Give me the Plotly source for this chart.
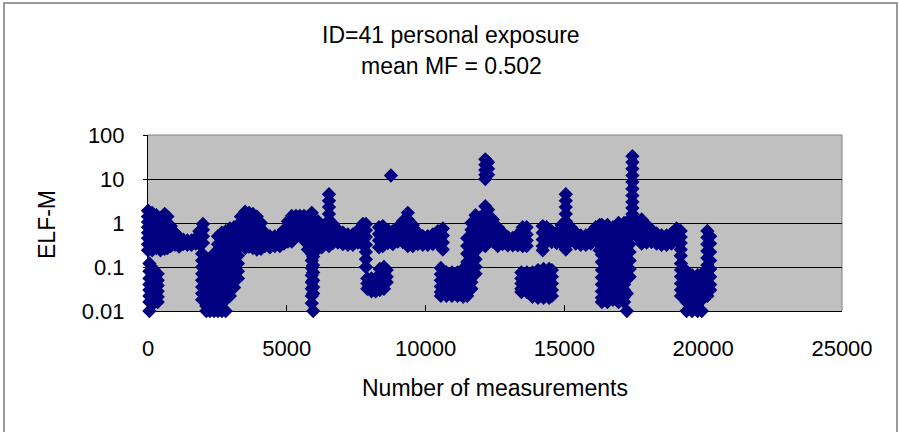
import plotly.graph_objects as go

seg1_x = [0, 50, 150, 200, 300, 350, 450, 600, 700, 820, 970, 1120, 1270, 1420, 1570, 1720, 1850, 1980]
seg1_v = [
    [1.9, 1.4, 1.05, 0.8, 0.6, 0.45, 0.33, 0.24],
    [0.12, 0.08, 0.055, 0.04, 0.03, 0.022, 0.016, 0.01],
    [1.7, 1.25, 0.95, 0.7, 0.52, 0.4, 0.3, 0.24],
    [0.09, 0.065, 0.045, 0.033, 0.025, 0.019, 0.015],
    [1.5, 1.1, 0.85, 0.62, 0.47, 0.36, 0.27],
    [0.07, 0.05, 0.038, 0.028, 0.021, 0.016],
    [1.3, 0.95, 0.72, 0.54, 0.4, 0.3, 0.24],
    [1.6, 1.1, 0.8, 0.6, 0.45, 0.33, 0.26],
    [1.4, 1.0, 0.7, 0.5, 0.36, 0.27],
    [0.85, 0.6, 0.42, 0.3],
    [0.6, 0.45, 0.32],
    [0.48, 0.36, 0.29],
    [0.42, 0.33],
    [0.4, 0.32],
    [0.4, 0.32],
    [0.45, 0.34],
    [0.65, 0.45, 0.33],
    [0.95, 0.7, 0.5, 0.35],
]

seg2_x = [1950, 2100, 2230, 2380, 2520, 2660, 2800, 2950, 3100, 3240]
seg2_v = [
    [0.2, 0.14, 0.1, 0.07, 0.05, 0.035, 0.025, 0.018],
    [0.16, 0.11, 0.075, 0.05, 0.035, 0.025, 0.018, 0.013, 0.01],
    [0.13, 0.09, 0.06, 0.04, 0.028, 0.02, 0.014, 0.01],
    [0.2, 0.13, 0.09, 0.06, 0.04, 0.028, 0.02, 0.014, 0.01],
    [0.5, 0.33, 0.22, 0.15, 0.1, 0.07, 0.045, 0.03, 0.02, 0.014, 0.01],
    [0.6, 0.42, 0.28, 0.19, 0.13, 0.085, 0.055, 0.038, 0.025, 0.017, 0.01],
    [0.65, 0.45, 0.3, 0.2, 0.13, 0.09, 0.06, 0.04, 0.027, 0.018, 0.01],
    [0.75, 0.5, 0.34, 0.23, 0.15, 0.1, 0.07, 0.046, 0.031, 0.022],
    [0.8, 0.55, 0.37, 0.25, 0.17, 0.11, 0.075, 0.05, 0.034],
    [0.9, 0.6, 0.4, 0.27, 0.18, 0.12, 0.08, 0.055],
]

seg3_x = [3350, 3500, 3640, 3780, 3920, 4070, 4210, 4390, 4570, 4750, 4900, 5040, 5180, 5330,
          5470, 5620, 5760, 5900, 5950, 6120, 6260, 6520, 6660, 6840, 7020, 7200, 7380, 7560,
          7740, 7850]
seg3_v = [
    [1.4, 1.0, 0.7, 0.5, 0.35],
    [1.8, 1.3, 0.95, 0.7, 0.5, 0.35, 0.27],
    [1.7, 1.2, 0.85, 0.6, 0.42, 0.29],
    [1.6, 1.1, 0.78, 0.55, 0.38, 0.27],
    [1.4, 1.0, 0.7, 0.48, 0.33, 0.25],
    [1.0, 0.7, 0.48, 0.33, 0.26],
    [0.6, 0.42, 0.3],
    [0.5, 0.37, 0.28],
    [0.5, 0.38, 0.3],
    [0.55, 0.4, 0.3],
    [0.7, 0.5, 0.34],
    [1.1, 0.78, 0.55, 0.38],
    [1.45, 1.05, 0.75, 0.53, 0.38],
    [1.45, 1.05, 0.75, 0.53],
    [1.45, 1.05, 0.75, 0.53],
    [1.45, 1.05, 0.75, 0.53, 0.4],
    [1.4, 1.0, 0.7, 0.5, 0.35, 0.25],
    [1.7, 1.2, 0.85, 0.6, 0.42, 0.29, 0.2, 0.14, 0.095, 0.065, 0.045, 0.032, 0.022, 0.015],
    [0.01, 0.17, 0.11, 0.075, 0.05, 0.035, 0.025],
    [1.1, 0.78, 0.55, 0.38, 0.26],
    [0.85, 0.6, 0.42, 0.28],
    [4.5, 3.2, 2.3, 1.6, 1.15, 0.82, 0.58, 0.41, 0.3],
    [0.95, 0.68, 0.48, 0.35],
    [0.7, 0.5, 0.36],
    [0.6, 0.45, 0.33],
    [0.55, 0.42, 0.32],
    [0.55, 0.42, 0.32],
    [0.68, 0.5, 0.36],
    [0.95, 0.68, 0.48, 0.32],
    [0.95, 0.68, 0.48, 0.32, 0.22, 0.15, 0.1],
]

seg4_x = [7900, 8050, 8200, 8350, 8500, 8600, 8320, 8460, 8640, 8750, 8820, 9000, 9180, 9360,
          9540, 9720, 9900, 10080, 10260, 10440, 10620]
seg4_v = [
    [0.055, 0.042, 0.032],
    [0.055, 0.042, 0.032, 0.028],
    [0.055, 0.042, 0.032, 0.028],
    [0.09, 0.065, 0.05, 0.038, 0.03],
    [0.1, 0.075, 0.055, 0.042, 0.032],
    [0.085, 0.06, 0.045],
    [0.8, 0.56, 0.4, 0.28],
    [0.85, 0.6, 0.42, 0.3],
    [0.7, 0.5, 0.35],
    [12],
    [0.65, 0.46, 0.33],
    [0.8, 0.55, 0.38],
    [1.1, 0.78, 0.54, 0.37],
    [1.7, 1.2, 0.85, 0.6, 0.42, 0.3],
    [0.9, 0.62, 0.42, 0.3],
    [0.6, 0.44, 0.33],
    [0.5, 0.4, 0.32],
    [0.5, 0.4, 0.32],
    [0.55, 0.42, 0.33],
    [0.65, 0.47, 0.35],
    [0.75, 0.52, 0.36, 0.25],
]

seg5_x = [10550, 10750, 10950, 11150, 11350, 11500, 11650, 11800, 11950, 12150, 12250]
seg5_v = [
    [0.095, 0.068, 0.05, 0.036, 0.027, 0.022],
    [0.075, 0.055, 0.04, 0.03, 0.022],
    [0.075, 0.055, 0.04, 0.03, 0.022],
    [0.075, 0.055, 0.04, 0.03, 0.022],
    [0.09, 0.065, 0.048, 0.035, 0.026, 0.021],
    [0.45, 0.3, 0.2, 0.13, 0.09, 0.06, 0.042, 0.03, 0.022],
    [1.0, 0.7, 0.47, 0.32, 0.21, 0.14, 0.095, 0.065, 0.045, 0.032],
    [1.5, 1.05, 0.72, 0.5, 0.34, 0.23, 0.15, 0.1, 0.07],
    [1.3, 0.9, 0.62, 0.43, 0.3],
    [28, 21, 16, 12.5, 10, 2.4, 1.7, 1.2, 0.85, 0.6, 0.42, 0.3],
    [24, 17, 12.5, 2.0, 1.4, 1.0, 0.7, 0.5, 0.35],
]

seg6_x = [12420, 12600, 12780, 12960, 13140, 13320, 13500, 13640, 13450, 13650, 13850, 14050,
          14250, 14450, 14550, 14220, 14360, 14540, 14720, 14900, 15050, 15230, 15410, 15590,
          15770, 15950, 16130, 16270]
seg6_v = [
    [1.2, 0.8, 0.55, 0.38],
    [0.8, 0.55, 0.4, 0.3],
    [0.6, 0.44, 0.33],
    [0.48, 0.38, 0.31],
    [0.46, 0.37, 0.31],
    [0.55, 0.4, 0.31],
    [0.8, 0.55, 0.4, 0.3],
    [0.8, 0.55, 0.4, 0.3],
    [0.075, 0.055, 0.042, 0.032, 0.027],
    [0.075, 0.055, 0.042, 0.032, 0.027],
    [0.075, 0.055, 0.042, 0.032, 0.025, 0.021],
    [0.085, 0.062, 0.045, 0.032, 0.025, 0.02],
    [0.09, 0.065, 0.047, 0.034, 0.025, 0.02],
    [0.09, 0.065, 0.047, 0.034, 0.025, 0.02],
    [0.085, 0.06, 0.042, 0.03, 0.022],
    [0.85, 0.6, 0.42, 0.3, 0.24],
    [0.8, 0.56, 0.42],
    [0.65, 0.48, 0.37],
    [0.6, 0.45, 0.35],
    [0.9, 0.65, 0.47, 0.34],
    [4.5, 3.2, 2.3, 1.6, 1.1, 0.75, 0.52, 0.36, 0.25],
    [0.8, 0.56, 0.4],
    [0.6, 0.45, 0.34],
    [0.52, 0.41, 0.32],
    [0.52, 0.41, 0.32],
    [0.6, 0.45, 0.34],
    [0.8, 0.56, 0.4],
    [0.9, 0.65, 0.47, 0.33, 0.24],
]

seg7_x = [16350, 16550, 16750, 16950, 17150, 17250, 17350, 17450, 17600]
seg7_v = [
    [0.9, 0.62, 0.42, 0.28, 0.19, 0.13, 0.085, 0.058, 0.04, 0.028, 0.02, 0.016],
    [0.9, 0.62, 0.42, 0.28, 0.19, 0.13, 0.085, 0.058, 0.04, 0.028, 0.02, 0.016],
    [0.8, 0.55, 0.37, 0.25, 0.17, 0.11, 0.075, 0.05, 0.035, 0.025, 0.018],
    [1.0, 0.7, 0.47, 0.31, 0.2, 0.13, 0.09, 0.06, 0.04, 0.03, 0.021, 0.016],
    [1.0, 0.7, 0.47, 0.31, 0.2, 0.13, 0.09, 0.06, 0.04, 0.03, 0.021, 0.016],
    [0.01, 0.025],
    [1.2, 0.8, 0.5, 0.33, 0.22, 0.14, 0.09, 0.06],
    [33, 24, 17, 12, 8.5, 6, 4.2, 3, 2.2, 1.6],
    [1.1, 0.85, 0.65, 0.5],
]

seg8_x = [17780, 17960, 18140, 18320, 18500, 18680, 18860, 19040, 19190, 19200, 19400, 19600,
          19800, 19950, 20150, 20250]
seg8_v = [
    [1.2, 0.85, 0.6, 0.45, 0.34],
    [0.9, 0.65, 0.48, 0.36],
    [0.7, 0.5, 0.37],
    [0.58, 0.44, 0.34],
    [0.52, 0.41, 0.32],
    [0.52, 0.41, 0.32],
    [0.58, 0.44, 0.34],
    [0.75, 0.54, 0.4],
    [0.66, 0.48, 0.35, 0.25, 0.18],
    [0.12, 0.085, 0.06, 0.042, 0.03, 0.022],
    [0.08, 0.057, 0.042, 0.031, 0.023, 0.016, 0.01],
    [0.065, 0.048, 0.036, 0.027, 0.02, 0.015, 0.01],
    [0.065, 0.048, 0.036, 0.027, 0.02, 0.015, 0.01],
    [0.07, 0.05, 0.036, 0.026, 0.018, 0.01],
    [0.66, 0.47, 0.33, 0.23, 0.16, 0.11, 0.08, 0.055, 0.04, 0.03, 0.022],
    [0.5, 0.34, 0.22, 0.14, 0.09, 0.06, 0.04, 0.03],
]

x_ticks = [0, 5000, 10000, 15000, 20000, 25000]
y_ticks = [0.01, 0.1, 1, 10, 100]
y_tick_text = ["0.01", "0.1", "1", "10", "100"]
title_line1 = "ID=41 personal exposure"
title_line2 = "mean MF = 0.502"

# ---- flatten columns into points ----
xs, ys = [], []
for sx, sv in [(seg1_x, seg1_v), (seg2_x, seg2_v), (seg3_x, seg3_v), (seg4_x, seg4_v),
               (seg5_x, seg5_v), (seg6_x, seg6_v), (seg7_x, seg7_v), (seg8_x, seg8_v)]:
    for x, vals in zip(sx, sv):
        for v in vals:
            xs.append(x)
            ys.append(v)

W, H = 899, 432
L, R, T, B = 148, 842, 135, 311
pw, ph = R - L, B - T

def px(x):
    return (x - L) / pw

def py(y):
    return (B - y) / ph

FONT = "Liberation Sans, Arial, sans-serif"

fig = go.Figure()
fig.add_trace(go.Scatter(
    x=xs, y=ys, mode="markers",
    marker=dict(symbol="diamond", size=11, color="#000080", line=dict(width=0)),
    cliponaxis=False, hoverinfo="skip", showlegend=False,
))

fig.update_layout(
    width=W, height=H,
    margin=dict(l=L, r=W - R, t=T, b=H - B, pad=0),
    paper_bgcolor="white",
    plot_bgcolor="#c0c0c0",
    font=dict(family=FONT, size=22, color="black"),
    showlegend=False,
    xaxis=dict(
        range=[0, 25000], tickvals=x_ticks, ticktext=[str(t) for t in x_ticks],
        ticks="inside", ticklen=6, tickcolor="black", tickwidth=1,
        showgrid=False, zeroline=False,
        showline=True, linecolor="black", linewidth=1,
        tickfont=dict(size=22), ticklabelstandoff=18,
        layer="below traces",
    ),
    yaxis=dict(
        type="log", range=[-2, 2], tickvals=y_ticks, ticktext=y_tick_text,
        ticks="outside", ticklen=4, tickcolor="black", tickwidth=1,
        showgrid=True, gridcolor="black", gridwidth=1,
        zeroline=False,
        showline=True, linecolor="black", linewidth=1,
        tickfont=dict(size=22), ticklabelstandoff=14,
        layer="below traces",
    ),
    shapes=[
        dict(type="line", xref="paper", yref="paper", x0=0, x1=1, y0=1, y1=1,
             line=dict(color="#808080", width=1), layer="below"),
        dict(type="line", xref="paper", yref="paper", x0=1, x1=1, y0=0, y1=1,
             line=dict(color="#808080", width=1), layer="below"),
        dict(type="rect", xref="paper", yref="paper",
             x0=px(4), x1=px(897), y0=py(436), y1=py(3),
             line=dict(color="#7a7a7a", width=1.5), fillcolor="rgba(0,0,0,0)", layer="above"),
    ],
    annotations=[
        dict(text=title_line1, xref="paper", yref="paper", x=px(451), y=py(35),
             xanchor="center", yanchor="middle", showarrow=False, font=dict(size=23)),
        dict(text=title_line2, xref="paper", yref="paper", x=px(451), y=py(66),
             xanchor="center", yanchor="middle", showarrow=False, font=dict(size=23)),
        dict(text="Number of measurements", xref="paper", yref="paper", x=px(495), y=py(388),
             xanchor="center", yanchor="middle", showarrow=False, font=dict(size=23)),
        dict(text="ELF-M", xref="paper", yref="paper", x=px(47), y=py(225),
             xanchor="center", yanchor="middle", showarrow=False, textangle=-90,
             font=dict(size=23)),
    ],
)

fig.write_html("out.html")
